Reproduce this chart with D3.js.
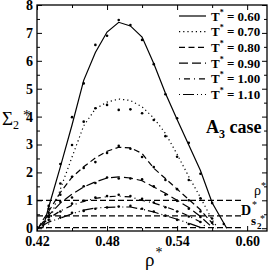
<!DOCTYPE html>
<html>
<head>
<meta charset="utf-8">
<script src="https://cdn.jsdelivr.net/npm/d3@7"></script>
<style>
  body { margin: 0; background: #fff; }
  text { font-family: "Liberation Serif", "DejaVu Serif", serif; }
</style>
</head>
<body>
<div id="chart"></div>
<script>
const width = 273, height = 273;
const margin = {top: 5, right: 6, bottom: 42, left: 37};

// temperatures (legend order)
const temps = ["0.60", "0.70", "0.80", "0.90", "1.00", "1.10"];
const dashes = [null, "1.2,3", "6,3.5", "9,4", "1,4,6,4", "1,3,11,3,1,3"];

// fitted curves, [rho*, Sigma2*]
const line060 = [[0.425,0],[0.43,0.75],[0.44,2.2],[0.45,3.7],[0.46,5.3],[0.47,6.3],[0.48,7.03],[0.49,7.38],[0.50,7.25],[0.51,6.85],[0.52,5.9],[0.53,4.84],[0.54,3.9],[0.55,2.98],[0.56,2.07],[0.57,0.91],[0.5825,0]];
const line070 = [[0.428,0],[0.43,0.15],[0.44,1.4],[0.45,2.55],[0.46,3.67],[0.47,4.28],[0.48,4.52],[0.49,4.63],[0.50,4.58],[0.51,4.35],[0.52,3.95],[0.53,3.4],[0.54,2.65],[0.55,1.85],[0.56,1.1],[0.57,0.3],[0.575,0]];
const line080 = [[0.421,0],[0.425,0.29],[0.43,0.6],[0.44,1.28],[0.45,1.83],[0.46,2.2],[0.47,2.52],[0.48,2.76],[0.49,2.9],[0.50,2.88],[0.51,2.68],[0.52,2.15],[0.53,1.78],[0.54,1.4],[0.55,1.03],[0.56,0.66],[0.57,0.18],[0.573,0]];
const line090 = [[0.421,0],[0.4286,0.4],[0.44,0.9],[0.45,1.22],[0.46,1.48],[0.47,1.66],[0.48,1.8],[0.49,1.84],[0.50,1.8],[0.51,1.7],[0.52,1.48],[0.53,1.25],[0.54,1.0],[0.55,0.74],[0.56,0.42],[0.568,0.11],[0.571,0]];
const line100 = [[0.421,0],[0.43,0.35],[0.44,0.62],[0.45,0.82],[0.46,0.96],[0.47,1.07],[0.48,1.13],[0.49,1.15],[0.50,1.12],[0.51,1.0],[0.52,0.9],[0.53,0.77],[0.54,0.62],[0.55,0.44],[0.56,0.22],[0.566,0]];
const line110 = [[0.421,0],[0.43,0.22],[0.44,0.36],[0.45,0.52],[0.46,0.65],[0.47,0.72],[0.48,0.75],[0.49,0.76],[0.50,0.76],[0.51,0.68],[0.52,0.58],[0.53,0.45],[0.54,0.32],[0.55,0.18],[0.56,0.03],[0.562,0]];

// simulation points
const dots060 = [[0.43,0.8],[0.44,2.3],[0.45,3.98],[0.46,5.19],[0.47,6.57],[0.48,6.9],[0.49,7.46],[0.50,7.28],[0.51,6.75],[0.52,5.88],[0.53,4.8],[0.54,3.94],[0.55,3.06],[0.56,1.95],[0.57,0.9],[0.58,0.15]];
const dots070 = [[0.43,0.55],[0.44,1.6],[0.45,2.98],[0.46,3.82],[0.47,4.3],[0.48,4.42],[0.49,4.24],[0.50,4.26],[0.51,4.12],[0.52,3.88],[0.53,3.3],[0.54,2.56],[0.55,1.73],[0.56,1.07],[0.57,0.35]];
const dots080 = [[0.43,0.7],[0.44,1.2],[0.45,1.84],[0.46,2.16],[0.47,2.37],[0.48,2.7],[0.49,2.95],[0.50,2.85],[0.51,2.55],[0.52,2.19],[0.53,1.73],[0.54,1.4],[0.55,1.0],[0.56,0.6],[0.57,0.2]];
const dots090 = [[0.43,0.45],[0.44,0.95],[0.45,1.1],[0.46,1.5],[0.47,1.62],[0.48,1.82],[0.49,1.78],[0.50,1.78],[0.51,1.75],[0.52,1.5],[0.53,1.2],[0.54,0.98],[0.55,0.7],[0.56,0.4]];
const dots100 = [[0.43,0.4],[0.44,0.6],[0.45,0.88],[0.46,0.98],[0.47,1.1],[0.48,1.15],[0.49,1.2],[0.50,1.15],[0.51,1.05],[0.52,0.92],[0.53,0.75],[0.54,0.6],[0.55,0.42],[0.56,0.22]];
const dots110 = [[0.43,0.3],[0.44,0.38],[0.45,0.55],[0.46,0.62],[0.47,0.7],[0.48,0.74],[0.49,0.78],[0.50,0.8],[0.51,0.7],[0.52,0.6],[0.53,0.45],[0.54,0.3],[0.55,0.15]];

const lines = [line060, line070, line080, line090, line100, line110];
const dots = [dots060, dots070, dots080, dots090, dots100, dots110];

// horizontal reference levels
const refLevels = [1.0, 0.44, 0.02];
const refEnd = 0.596;

const xTicks = [0.42, 0.48, 0.54, 0.60];
const xMinor = [0.45, 0.51, 0.57];
const yTicks = [0, 1, 2, 3, 4, 5, 6, 7, 8];
const yMinor = [0.5, 1.5, 2.5, 3.5, 4.5, 5.5, 6.5, 7.5];

const svg = d3.select("#chart").append("svg")
    .attr("width", width)
    .attr("height", height);

const x = d3.scaleLinear().domain([0.42, 0.617]).range([margin.left, width - margin.right]);
const y = d3.scaleLinear().domain([-0.1, 8]).range([height - margin.bottom, margin.top]);

const x0 = x.range()[0], x1 = x.range()[1], y0 = y.range()[0], y1 = y.range()[1];

// axes, ticks point inward
function styleAxis(g) {
    g.select(".domain").remove();
    g.selectAll("line").attr("stroke", "#000").attr("stroke-width", 1);
    g.selectAll("text").attr("font-size", 14).attr("font-weight", "bold").attr("fill", "#000")
        .attr("font-family", '"Liberation Serif", serif');
}
svg.append("g").attr("transform", `translate(0,${y0})`)
    .call(d3.axisBottom(x).tickValues(xTicks).tickSize(-5).tickPadding(5).tickFormat(d3.format(".2f")))
    .call(styleAxis);
svg.append("g").attr("transform", `translate(0,${y0})`)
    .call(d3.axisBottom(x).tickValues(xMinor).tickSize(-3).tickFormat(""))
    .call(styleAxis);
svg.append("g").attr("transform", `translate(0,${y1})`)
    .call(d3.axisTop(x).tickValues(xTicks).tickSize(-5).tickFormat(""))
    .call(styleAxis);
svg.append("g").attr("transform", `translate(0,${y1})`)
    .call(d3.axisTop(x).tickValues(xMinor).tickSize(-3).tickFormat(""))
    .call(styleAxis);
svg.append("g").attr("transform", `translate(${x0},0)`)
    .call(d3.axisLeft(y).tickValues(yTicks).tickSize(-5).tickPadding(4).tickFormat(d3.format("d")))
    .call(styleAxis);
svg.append("g").attr("transform", `translate(${x0},0)`)
    .call(d3.axisLeft(y).tickValues(yMinor).tickSize(-3).tickFormat(""))
    .call(styleAxis);
svg.append("g").attr("transform", `translate(${x1},0)`)
    .call(d3.axisRight(y).tickValues(yTicks).tickSize(-5).tickFormat(""))
    .call(styleAxis);
svg.append("g").attr("transform", `translate(${x1},0)`)
    .call(d3.axisRight(y).tickValues(yMinor).tickSize(-3).tickFormat(""))
    .call(styleAxis);

svg.append("rect")
    .attr("x", x0).attr("y", y1)
    .attr("width", x1 - x0).attr("height", y0 - y1)
    .attr("fill", "none").attr("stroke", "#000").attr("stroke-width", 1.3);

// reference dashed levels
svg.append("g").selectAll("line")
    .data(refLevels)
    .join("line")
    .attr("x1", x0).attr("x2", x(refEnd))
    .attr("y1", d => y(d)).attr("y2", d => y(d))
    .attr("stroke", "#000").attr("stroke-width", 1.2)
    .attr("stroke-dasharray", "6,3");

const line = d3.line().x(d => x(d[0])).y(d => y(d[1]));

svg.append("g").selectAll("path")
    .data(lines)
    .join("path")
    .attr("d", line)
    .attr("fill", "none")
    .attr("stroke", "#000")
    .attr("stroke-width", 1.2)
    .attr("stroke-dasharray", (d, i) => dashes[i]);

svg.append("g").selectAll("g")
    .data(dots)
    .join("g")
    .selectAll("circle")
    .data(d => d)
    .join("circle")
    .attr("cx", d => x(d[0]))
    .attr("cy", d => y(d[1]))
    .attr("r", 1.3)
    .attr("fill", "#000");

// legend
const legend = svg.append("g");
const rowY = i => 16 + i * 15.7;
temps.forEach((t, i) => {
    legend.append("line")
        .attr("x1", 179).attr("x2", 206)
        .attr("y1", rowY(i)).attr("y2", rowY(i))
        .attr("stroke", "#000").attr("stroke-width", 1.2)
        .attr("stroke-dasharray", dashes[i]);
    const txt = legend.append("text")
        .attr("x", 211).attr("y", rowY(i) + 4.5)
        .attr("font-size", 13).attr("font-weight", "bold");
    txt.append("tspan").text("T");
    txt.append("tspan").attr("font-size", 8).attr("dy", -6).text("*");
    txt.append("tspan").attr("dy", 6).text(" = " + t);
});

// case label
const caseLabel = svg.append("text")
    .attr("x", 206).attr("y", 133)
    .attr("font-size", 18).attr("font-weight", "bold");
caseLabel.append("tspan").text("A");
caseLabel.append("tspan").attr("font-size", 12).attr("dy", 5).text("3");
caseLabel.append("tspan").attr("dy", -5).text(" case");

// labels of reference levels
const refLab = svg.append("g").attr("font-size", 13);
refLab.append("text").attr("x", 254).attr("y", 195).attr("font-size", 14).text("ρ");
refLab.append("text").attr("x", 261).attr("y", 189).attr("font-size", 10).text("*");
refLab.append("text").attr("x", 241).attr("y", 215).attr("font-weight", "bold").attr("font-size", 14).text("D");
refLab.append("text").attr("x", 252).attr("y", 208).attr("font-size", 10).text("*");
refLab.append("text").attr("x", 251).attr("y", 225).attr("font-weight", "bold").text("s");
refLab.append("text").attr("x", 257).attr("y", 229).attr("font-weight", "bold").attr("font-size", 9).text("2");
refLab.append("text").attr("x", 260).attr("y", 222).attr("font-size", 10).text("*");

// axis titles
const yTitle = svg.append("text").attr("x", 2).attr("y", 125).attr("font-size", 19);
yTitle.append("tspan").text("Σ");
yTitle.append("tspan").attr("font-size", 12).attr("dy", 4).text("2");
yTitle.append("tspan").attr("font-size", 15).attr("dx", 4).attr("dy", -9).text("*");

const xTitle = svg.append("text").attr("x", 145).attr("y", 266).attr("font-size", 19);
xTitle.append("tspan").text("ρ");
xTitle.append("tspan").attr("font-size", 14).attr("dx", 1).attr("dy", -9).text("*");
</script>
</body>
</html>
